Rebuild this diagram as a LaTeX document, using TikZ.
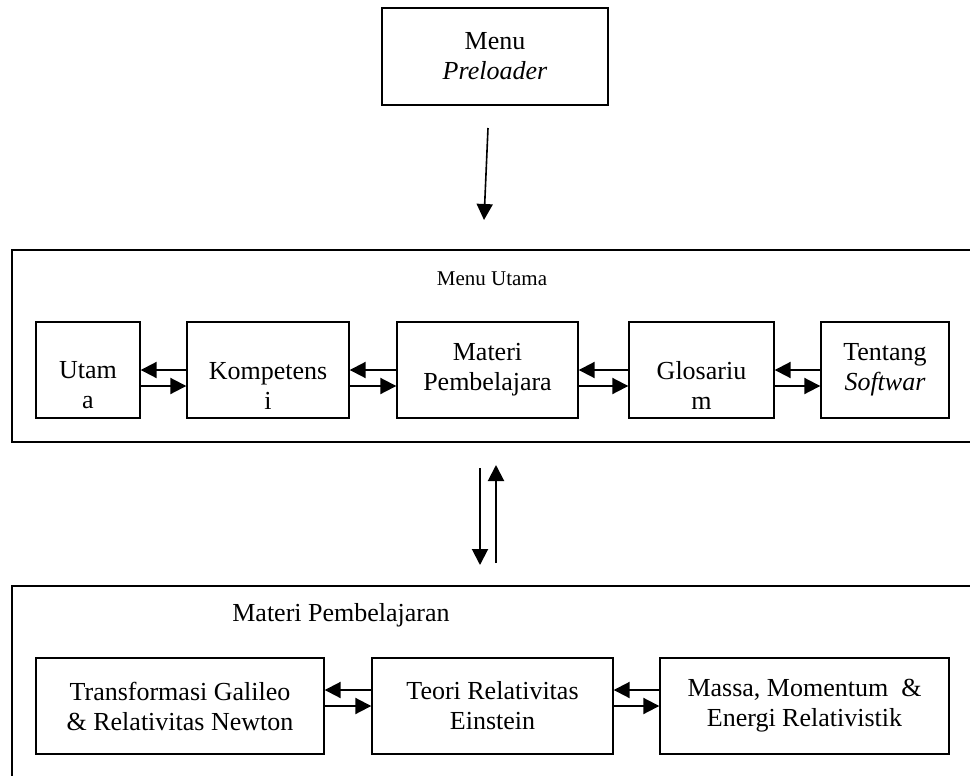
\documentclass[tikz,border=0pt]{standalone}
\usepackage{fontspec}
\setmainfont{Liberation Serif}
\usepackage{tikz}
\usetikzlibrary{arrows.meta, positioning}
\newcommand{\topgap}{\rule{0pt}{9pt}}
\tikzset{
	blk/.style   ={rectangle, draw=black, line width=0.7pt, minimum height=48pt, inner sep=2pt, align=center, font=\fontsize{13}{15}\selectfont},
	frame/.style ={draw=black, line width=0.7pt},
	ttl/.style   ={font=\fontsize{13}{15}\selectfont},
	sig/.style   ={-{Triangle[length=8pt, width=8pt]}, line width=1pt},
}

\begin{document}
\begin{tikzpicture}[x=0.5pt, y=-0.5pt]
	\useasboundingbox (0,0) rectangle (970,776);
	\clip (0,0) rectangle (970,776);
	% outer frames (run past the page edge)
	\draw[frame] (12,250) rectangle (990,442);
	\draw[frame] (12,586) rectangle (990,800);
	\node[font=\fontsize{10.5}{12}\selectfont] (mutitle) at (492,279) {Menu Utama};
	\node[ttl] (mptitle) at (341,615) {Materi Pembelajaran};
	% top
	\node[blk, minimum width=113pt, minimum height=48.5pt] (pre) at (495,56.5) {Menu\\ \textit{Preloader}};
	\coordinate (p1) at (488,128);
	\coordinate (p2) at (484,220);
	\draw[sig, line width=0.8pt] (p1) -- (p2);
	% menu utama
	\node[blk, minimum width=52pt] (utama) at (88,370) {\topgap\\ Utam\\ a};
	\node[blk, right=22.8pt of utama, minimum width=81pt] (komp) {\topgap\\ Kompetens\\ i};
	\node[blk, right=23.3pt of komp, minimum width=90.5pt] (materi) {Materi\\ Pembelajara};
	\node[blk, right=24.8pt of materi, minimum width=72.5pt] (glos) {\topgap\\ Glosariu\\ m};
	\node[blk, right=22.8pt of glos, minimum width=64pt] (tentang) {Tentang\\ \textit{Softwar}};
	\draw[sig] (komp.west) -- (utama.east);
	\draw[sig] ([yshift=-8pt]utama.east) -- ([yshift=-8pt]komp.west);
	\draw[sig] (materi.west) -- (komp.east);
	\draw[sig] ([yshift=-8pt]komp.east) -- ([yshift=-8pt]materi.west);
	\draw[sig] (glos.west) -- (materi.east);
	\draw[sig] ([yshift=-8pt]materi.east) -- ([yshift=-8pt]glos.west);
	\draw[sig] (tentang.west) -- (glos.east);
	\draw[sig] ([yshift=-8pt]glos.east) -- ([yshift=-8pt]tentang.west);
	% between the frames
	\coordinate (d1) at (480,468);
	\coordinate (d2) at (480,565);
	\coordinate (u1) at (496,563);
	\coordinate (u2) at (496,465);
	\draw[sig] (d1) -- (d2);
	\draw[sig] (u1) -- (u2);
	% materi pembelajaran
	\node[blk, minimum width=144pt] (galileo) at (180,706) {Transformasi Galileo\\ \& Relativitas Newton};
	\node[blk, right=23.3pt of galileo, minimum width=120.5pt] (einstein) {Teori Relativitas\\ Einstein};
	\node[blk, right=22.8pt of einstein, minimum width=144.5pt] (massa) {Massa, Momentum\ \ \&\\ Energi Relativistik};
	\draw[sig] ([yshift=8pt]einstein.west) -- ([yshift=8pt]galileo.east);
	\draw[sig] (galileo.east) -- (einstein.west);
	\draw[sig] ([yshift=8pt]massa.west) -- ([yshift=8pt]einstein.east);
	\draw[sig] (einstein.east) -- (massa.west);
\end{tikzpicture}
\end{document}
